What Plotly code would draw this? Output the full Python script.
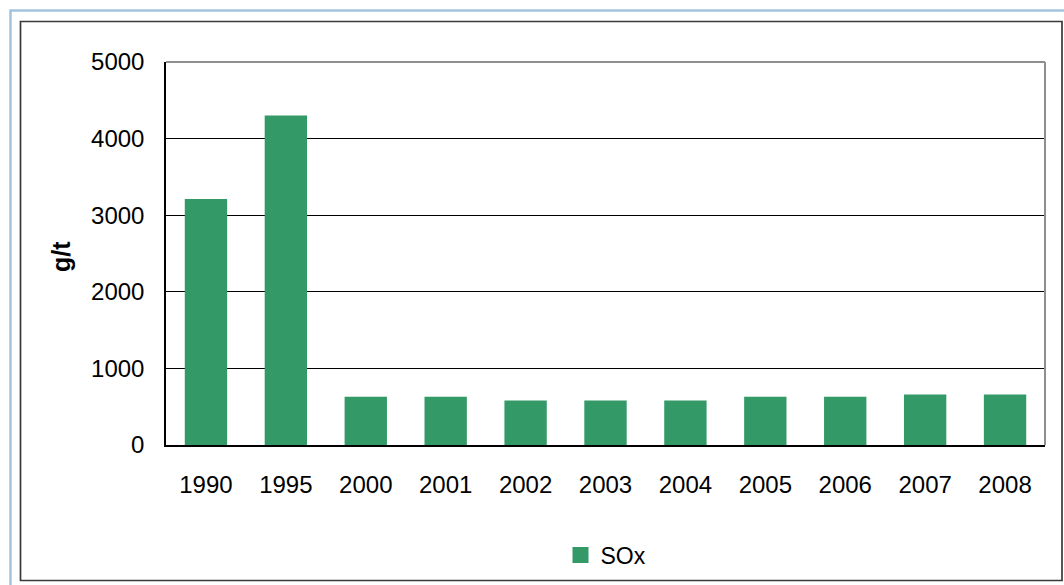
import plotly.graph_objects as go

# SOx emission factor per year (g/t)
years = ["1990", "1995", "2000", "2001", "2002", "2003", "2004", "2005", "2006", "2007", "2008"]
sox = [3210, 4300, 630, 630, 580, 580, 580, 630, 630, 660, 660]
y_ticks = [0, 1000, 2000, 3000, 4000, 5000]

W, H = 1064, 585
L, R, T, B = 166, 1045, 62, 445   # plot area in pixels


def px(x):
    return (x - L) / (R - L)


def py(y):
    return (B - y) / (B - T)


FONT = "Liberation Sans, Arial, sans-serif"
GREEN = "#339966"

fig = go.Figure()
fig.add_trace(go.Bar(x=years, y=sox, name="SOx", showlegend=False,
                     marker=dict(color=GREEN, line=dict(width=0))))
# legend entry with a larger square key
fig.add_trace(go.Scatter(x=[None], y=[None], name="SOx", mode="markers",
                         marker=dict(symbol="square", size=16, color=GREEN)))

shapes = [
    # outer light-blue frame
    dict(type="rect", xref="paper", yref="paper", x0=px(10.5), y0=py(10.5), x1=px(1090), y1=py(610),
         line=dict(color="#a3c4dd", width=2.5), layer="above"),
    # dark chart frame
    dict(type="rect", xref="paper", yref="paper", x0=px(20.5), y0=py(21.5), x1=px(1062), y1=py(580.5),
         line=dict(color="#3a3a3a", width=1.7), layer="above"),
    # top and right edges of the plot area
    dict(type="line", xref="paper", yref="paper", x0=0, y0=1, x1=1, y1=1,
         line=dict(color="#8f8f8f", width=2), layer="above"),
    dict(type="line", xref="paper", yref="paper", x0=1, y0=0, x1=1, y1=1,
         line=dict(color="#8f8f8f", width=2), layer="above"),
]

fig.update_layout(
    width=W, height=H,
    margin=dict(l=L, r=W - R, t=T, b=H - B, autoexpand=False),
    paper_bgcolor="white", plot_bgcolor="white",
    font=dict(family=FONT, size=24, color="black"),
    bargap=0.47,
    showlegend=True,
    legend=dict(orientation="h", x=px(606), y=py(555), xanchor="center", yanchor="middle",
                font=dict(size=23), bgcolor="rgba(0,0,0,0)", itemsizing="trace"),
    xaxis=dict(type="category", range=[-0.5, len(years) - 0.5], showline=True, linecolor="black",
               linewidth=1.5, showgrid=False, ticks="", ticklabelstandoff=17, tickfont=dict(size=24)),
    yaxis=dict(range=[0, 5000], tickvals=y_ticks, showline=True, linecolor="black", linewidth=1.5,
               showgrid=True, gridcolor="black", gridwidth=1, zeroline=False, ticks="",
               ticklabelstandoff=15, tickfont=dict(size=24)),
    shapes=shapes,
    annotations=[dict(text="<b>g/t</b>", xref="paper", yref="paper", x=px(61), y=py(257),
                      xanchor="center", yanchor="middle", textangle=-90, showarrow=False,
                      font=dict(size=25, family=FONT))],
)

fig.write_html("out.html")
